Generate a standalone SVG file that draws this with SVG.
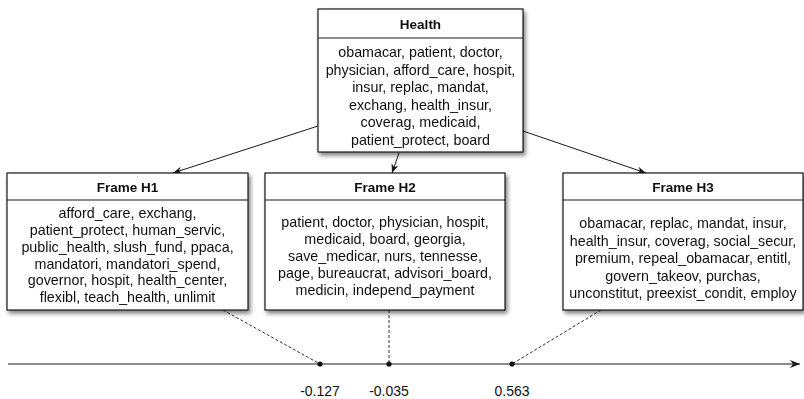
<svg xmlns="http://www.w3.org/2000/svg" width="804" height="399" viewBox="0 0 804 399">
  <style>
    .box { fill: #ffffff; stroke: #1a1a1a; stroke-width: 1.2; }
    .div { stroke: #1a1a1a; stroke-width: 1.2; }
    .hdr { font-family: "Liberation Sans", Arial, sans-serif; font-size: 13.5px; font-weight: bold; fill: #111; text-anchor: middle; dominant-baseline: central; }
    .body { font-family: "Liberation Sans", Arial, sans-serif; font-size: 14.3px; fill: #111; text-anchor: middle; dominant-baseline: central; }
    .tick { font-family: "Liberation Sans", Arial, sans-serif; font-size: 14px; fill: #111; text-anchor: middle; dominant-baseline: central; }
    .edge { stroke: #1a1a1a; stroke-width: 1; fill: none; }
    .dash { stroke: #1a1a1a; stroke-width: 0.9; stroke-dasharray: 3 2; fill: none; }
  </style>
  <defs>
    <filter id="shadow" x="-10%" y="-10%" width="125%" height="125%">
      <feGaussianBlur in="SourceAlpha" stdDeviation="2"/>
      <feOffset dx="2" dy="3" result="b"/>
      <feComponentTransfer><feFuncA type="linear" slope="0.5"/></feComponentTransfer>
      <feMerge><feMergeNode/><feMergeNode in="SourceGraphic"/></feMerge>
    </filter>
    <marker id="arrow" viewBox="0 0 10 10" refX="10" refY="5" markerWidth="9" markerHeight="9" markerUnits="userSpaceOnUse" orient="auto">
      <path d="M0,1 L10,5 L0,9 L3,5 Z" fill="#1a1a1a"/>
    </marker>
    <marker id="axisArrow" viewBox="0 0 10 10" refX="10" refY="5" markerWidth="10" markerHeight="10" markerUnits="userSpaceOnUse" orient="auto">
      <path d="M0,1 L10,5 L0,9 L3,5 Z" fill="#1a1a1a"/>
    </marker>
  </defs>

  <!-- hierarchy and axis connectors -->
  <g id="connectors">
    <line class="edge" x1="318" y1="126" x2="173" y2="173" marker-end="url(#arrow)"/>
    <line class="edge" x1="399" y1="153" x2="392" y2="173" marker-end="url(#arrow)"/>
    <line class="edge" x1="523" y1="131" x2="646" y2="173" marker-end="url(#arrow)"/>
    <line class="dash" x1="223" y1="310" x2="320" y2="364"/>
    <line class="dash" x1="389" y1="310" x2="389" y2="364"/>
    <line class="dash" x1="601" y1="310" x2="512" y2="364"/>
  </g>

  <!-- score axis -->
  <g id="axis">
    <line class="edge" x1="8" y1="364" x2="800" y2="364" stroke-width="1.3" marker-end="url(#axisArrow)"/>
    <circle cx="320" cy="364" r="2.6" fill="#111"/>
    <circle cx="389" cy="364" r="2.6" fill="#111"/>
    <circle cx="512" cy="364" r="2.6" fill="#111"/>
    <text class="tick" x="320" y="391">-0.127</text>
    <text class="tick" x="389" y="391">-0.035</text>
    <text class="tick" x="512" y="391">0.563</text>
  </g>

  <g id="health" filter="url(#shadow)">
    <rect class="box" x="318" y="9" width="205" height="143"/>
    <line class="div" x1="318" y1="38" x2="523" y2="38"/>
    <text class="hdr" x="420.5" y="24">Health</text>
    <text class="body" x="420.5" y="52">obamacar, patient, doctor,</text>
    <text class="body" x="420.5" y="69.5">physician, afford_care, hospit,</text>
    <text class="body" x="420.5" y="87">insur, replac, mandat,</text>
    <text class="body" x="420.5" y="104.5">exchang, health_insur,</text>
    <text class="body" x="420.5" y="122">coverag, medicaid,</text>
    <text class="body" x="420.5" y="139.5">patient_protect, board</text>
  </g>

  <g id="frame-h1" filter="url(#shadow)">
    <rect class="box" x="7" y="173" width="241" height="137"/>
    <line class="div" x1="7" y1="200" x2="248" y2="200"/>
    <text class="hdr" x="127.5" y="187">Frame H1</text>
    <text class="body" x="127.5" y="213">afford_care, exchang,</text>
    <text class="body" x="127.5" y="230">patient_protect, human_servic,</text>
    <text class="body" x="127.5" y="247">public_health, slush_fund, ppaca,</text>
    <text class="body" x="127.5" y="263.5">mandatori, mandatori_spend,</text>
    <text class="body" x="127.5" y="280">governor, hospit, health_center,</text>
    <text class="body" x="127.5" y="297">flexibl, teach_health, unlimit</text>
  </g>

  <g id="frame-h2" filter="url(#shadow)">
    <rect class="box" x="265" y="173" width="240" height="137"/>
    <line class="div" x1="265" y1="200" x2="505" y2="200"/>
    <text class="hdr" x="385" y="187">Frame H2</text>
    <text class="body" x="385" y="221.5">patient, doctor, physician, hospit,</text>
    <text class="body" x="385" y="238.5">medicaid, board, georgia,</text>
    <text class="body" x="385" y="256">save_medicar, nurs, tennesse,</text>
    <text class="body" x="385" y="273">page, bureaucrat, advisori_board,</text>
    <text class="body" x="385" y="290">medicin, independ_payment</text>
  </g>

  <g id="frame-h3" filter="url(#shadow)">
    <rect class="box" x="563" y="173" width="240" height="137"/>
    <line class="div" x1="563" y1="200" x2="803" y2="200"/>
    <text class="hdr" x="683" y="187">Frame H3</text>
    <text class="body" x="683" y="223">obamacar, replac, mandat, insur,</text>
    <text class="body" x="683" y="240.5">health_insur, coverag, social_secur,</text>
    <text class="body" x="683" y="258">premium, repeal_obamacar, entitl,</text>
    <text class="body" x="683" y="275.5">govern_takeov, purchas,</text>
    <text class="body" x="683" y="293">unconstitut, preexist_condit, employ</text>
  </g>
</svg>
